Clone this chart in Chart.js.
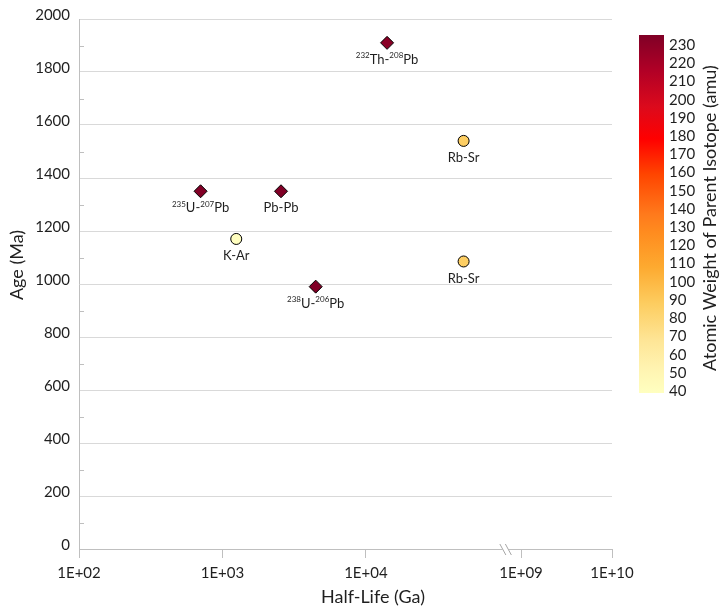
<!DOCTYPE html>
<html><head><meta charset="utf-8">
<script src="https://cdn.jsdelivr.net/npm/chart.js@4/dist/chart.umd.min.js"></script>
<style>html,body{margin:0;padding:0;background:#fff;}canvas{display:block;}</style>
</head><body>
<canvas id="c" width="720" height="609"></canvas>
<script>
// ---- data ----
const methods = ['^232Th-^208Pb', '^235U-^207Pb', 'Pb-Pb', 'K-Ar', '^238U-^206Pb', 'Rb-Sr', 'Rb-Sr'];
const decaySystems = ['U-Th-Pb', 'U-Th-Pb', 'U-Th-Pb', 'K-Ar', 'U-Th-Pb', 'Rb-Sr', 'Rb-Sr'];
const halfLives = [14050, 704, 2560, 1248, 4468, 48000, 48000];
const ages = [1910, 1350, 1350, 1170, 990, 1540, 1085];
const parentWeights = [232, 235, 238, 40, 238, 87, 87];
const xTickExponents = [2, 3, 4, 9, 10];
const xTickLabels = ['1E+02', '1E+03', '1E+04', '1E+09', '1E+10'];
const colorbarTicks = [40, 50, 60, 70, 80, 90, 100, 110, 120, 130, 140, 150, 160, 170, 180, 190, 200, 210, 220, 230];

// ---- styling ----
const FONT = 'Lato, "Open Sans", sans-serif';
const TEXT = '#1F1F1F';
const AXIS = '#BFBFBF';
const GRID = '#D9D9D9';
const shapeFor = { 'U-Th-Pb': 'rectRot', 'K-Ar': 'circle', 'Rb-Sr': 'circle' };
const radiusFor = { 'rectRot': 6.5, 'circle': 5.5 };

// broken log axis: lower segment 1E+02..break, upper segment squeezed
const BREAK_LO = 4.955, BREAK_HI = 8.8, UPPER_SQUEEZE = 0.634;
function axisPos(lg) {
  return lg <= BREAK_LO ? lg - 2 : (BREAK_LO - 2) + (lg - BREAK_HI) * UPPER_SQUEEZE;
}
const X_MAX = axisPos(10);

// colour map
const CB_MIN = 39, CB_MAX = 235.5;
const cmapStops = [
  [39, '#FFFFC0'], [53, '#FFF3B0'], [68, '#FEE596'], [88, '#FDCD60'], [108, '#FDAA30'],
  [127, '#FF8C1F'], [137, '#FF7A1C'], [159, '#FF4500'], [178.5, '#FF0000'],
  [196, '#DC0A1C'], [216, '#B10026'], [235.5, '#800026']
];
function hexToRgb(h) { return [1, 3, 5].map(i => parseInt(h.substr(i, 2), 16)); }
function colorFor(v) {
  v = Math.max(CB_MIN, Math.min(CB_MAX, v));
  for (let i = 0; i < cmapStops.length - 1; i++) {
    const [v0, c0] = cmapStops[i], [v1, c1] = cmapStops[i + 1];
    if (v >= v0 && v <= v1) {
      const t = (v - v0) / (v1 - v0);
      const a = hexToRgb(c0), b = hexToRgb(c1);
      return 'rgb(' + a.map((x, k) => Math.round(x + (b[k] - x) * t)).join(',') + ')';
    }
  }
  return cmapStops[cmapStops.length - 1][1];
}

const points = halfLives.map((h, i) => ({ x: axisPos(Math.log10(h)), y: ages[i] }));

function parseRuns(s) {
  const runs = []; const re = /\^(\d+)|([^^]+)/g; let m;
  while ((m = re.exec(s))) runs.push(m[1] ? { t: m[1], sup: true } : { t: m[2], sup: false });
  return runs;
}

const CB = { x: 639, w: 25, top: 35, bottom: 393 };
function cbY(v) { return CB.bottom - (v - CB_MIN) / (CB_MAX - CB_MIN) * (CB.bottom - CB.top); }

const decor = {
  id: 'decor',
  beforeDatasetsDraw(chart) {
    const ctx = chart.ctx, ys = chart.scales.y, a = chart.chartArea;
    ctx.save();
    ctx.strokeStyle = AXIS; ctx.lineWidth = 1;
    for (let v = 100; v < 2000; v += 200) {
      const y = Math.round(ys.getPixelForValue(v)) + 0.5;
      ctx.beginPath(); ctx.moveTo(a.left, y); ctx.lineTo(a.left + 5, y); ctx.stroke();
    }
    ctx.restore();
  },
  afterDatasetsDraw(chart) {
    const ctx = chart.ctx, meta = chart.getDatasetMeta(0);
    ctx.save();
    ctx.fillStyle = TEXT;
    ctx.textBaseline = 'middle';
    ctx.textAlign = 'left';
    const mainF = '13px ' + FONT, supF = '8px ' + FONT;
    meta.data.forEach((el, i) => {
      const runs = parseRuns(methods[i]);
      let total = 0;
      runs.forEach(r => { ctx.font = r.sup ? supF : mainF; r.w = ctx.measureText(r.t).width; total += r.w; });
      let x = el.x - total / 2;
      runs.forEach(r => {
        ctx.font = r.sup ? supF : mainF;
        ctx.fillText(r.t, x, r.sup ? el.y + 13 : el.y + 17);
        x += r.w;
      });
    });
    ctx.restore();
  },
  afterDraw(chart) {
    const ctx = chart.ctx, a = chart.chartArea, xs = chart.scales.x;
    ctx.save();
    // axis break
    const bx = xs.getPixelForValue(BREAK_LO - 2);
    ctx.fillStyle = '#fff';
    ctx.fillRect(bx - 0.5, a.bottom - 2, 6.5, 4);
    ctx.strokeStyle = '#A6A6A6'; ctx.lineWidth = 1;
    [[-3, 3], [2.5, 8.5]].forEach(([d0, d1]) => {
      ctx.beginPath(); ctx.moveTo(bx + d0, a.bottom - 5); ctx.lineTo(bx + d1, a.bottom + 6); ctx.stroke();
    });
    // colour bar
    const g = ctx.createLinearGradient(0, CB.bottom, 0, CB.top);
    cmapStops.forEach(([v, c]) => g.addColorStop((v - CB_MIN) / (CB_MAX - CB_MIN), c));
    ctx.fillStyle = g;
    ctx.fillRect(CB.x, CB.top, CB.w, CB.bottom - CB.top);
    ctx.fillStyle = TEXT;
    ctx.font = '15px ' + FONT;
    ctx.textAlign = 'left'; ctx.textBaseline = 'middle';
    colorbarTicks.forEach(v => ctx.fillText(String(v), 669, cbY(v)));
    // titles
    ctx.font = '18px ' + FONT;
    ctx.textAlign = 'center';
    ctx.fillText('Half-Life (Ga)', 373, 597);
    ctx.save(); ctx.translate(17, 265); ctx.rotate(-Math.PI / 2);
    ctx.fillText('Age (Ma)', 0, 0); ctx.restore();
    ctx.save(); ctx.translate(710, 218); ctx.rotate(-Math.PI / 2);
    ctx.fillText('Atomic Weight of Parent Isotope (amu)', 0, 0); ctx.restore();
    ctx.restore();
  }
};

new Chart(document.getElementById('c'), {
  type: 'scatter',
  data: {
    datasets: [{
      data: points,
      pointStyle: ctx => shapeFor[decaySystems[ctx.dataIndex]],
      pointRadius: ctx => radiusFor[shapeFor[decaySystems[ctx.dataIndex]]],
      pointHoverRadius: ctx => radiusFor[shapeFor[decaySystems[ctx.dataIndex]]],
      pointBackgroundColor: ctx => colorFor(parentWeights[ctx.dataIndex]),
      pointBorderColor: '#000',
      pointBorderWidth: 1
    }]
  },
  options: {
    responsive: false,
    devicePixelRatio: 1,
    animation: false,
    layout: { padding: { left: 0, top: 19, right: 108, bottom: 0 } },
    plugins: { legend: { display: false }, tooltip: { enabled: false } },
    scales: {
      x: {
        type: 'linear', min: 0, max: X_MAX,
        afterBuildTicks: s => { s.ticks = xTickExponents.map(e => ({ value: axisPos(e) })); },
        afterFit: s => { s.height = 60; },
        ticks: {
          callback: (v, i) => xTickLabels[i],
          autoSkip: false, maxRotation: 0, padding: 6,
          color: TEXT, font: { family: FONT, size: 15 }
        },
        grid: { drawOnChartArea: false, drawTicks: true, tickLength: 9, color: AXIS },
        border: { display: true, color: AXIS }
      },
      y: {
        min: 0, max: 2000,
        afterFit: s => { s.width = 79; },
        ticks: {
          stepSize: 200, padding: 9, labelOffset: -3.5,
          callback: v => String(v),
          color: TEXT, font: { family: FONT, size: 15 }
        },
        grid: { color: GRID, drawTicks: false },
        border: { display: true, color: AXIS }
      }
    }
  },
  plugins: [decor]
});
</script>
</body></html>
